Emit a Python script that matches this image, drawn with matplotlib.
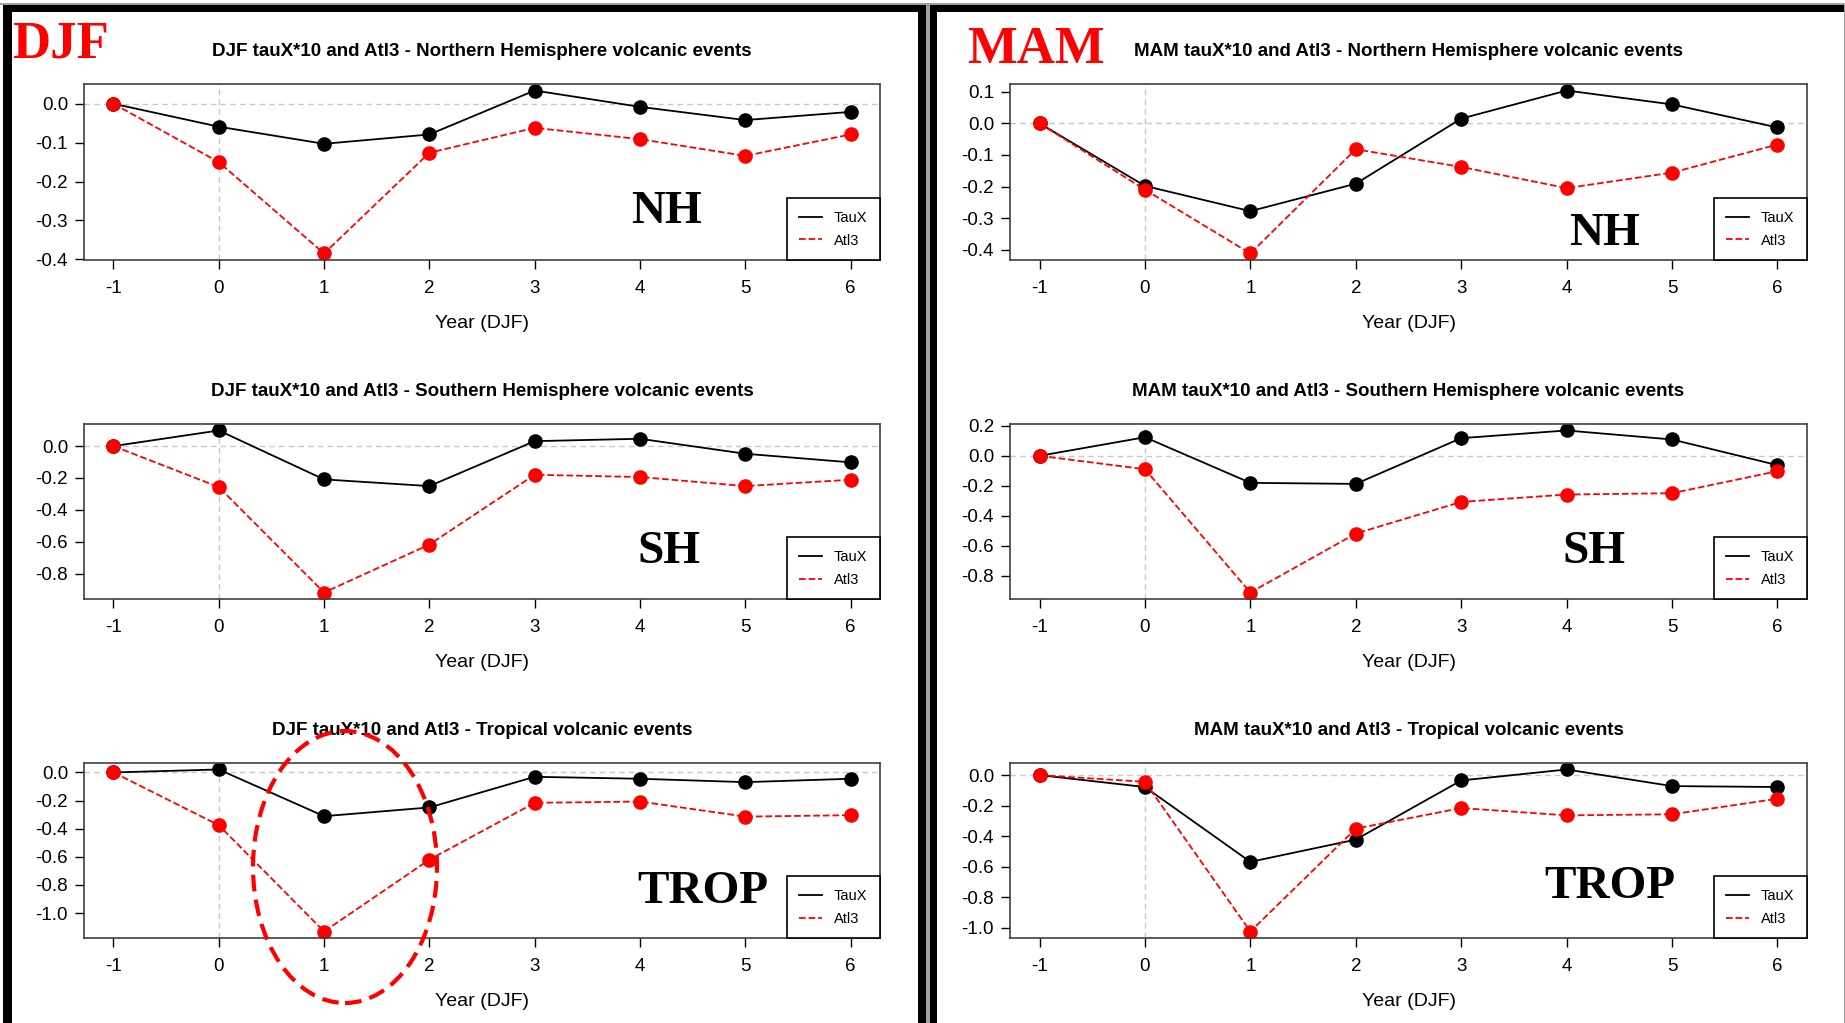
import matplotlib.pyplot as plt
from matplotlib.patches import Ellipse, Rectangle
from matplotlib.ticker import MultipleLocator, FormatStrFormatter

plt.rcParams['font.family'] = ['Liberation Sans', 'DejaVu Sans']
plt.rcParams['axes.unicode_minus'] = False

W, H = 1845, 1023

years = [-1, 0, 1, 2, 3, 4, 5, 6]

# tauX*10 and Atl3 anomalies, DJF season
djf_nh_taux = [0.0, -0.059, -0.103, -0.079, 0.034, -0.008, -0.042, -0.021]
djf_nh_atl3 = [0.0, -0.150, -0.385, -0.126, -0.062, -0.091, -0.134, -0.079]
djf_sh_taux = [0.0, 0.098, -0.209, -0.251, 0.031, 0.046, -0.048, -0.102]
djf_sh_atl3 = [0.0, -0.257, -0.919, -0.618, -0.180, -0.194, -0.251, -0.211]
djf_trop_taux = [0.0, 0.021, -0.311, -0.249, -0.031, -0.045, -0.069, -0.045]
djf_trop_atl3 = [0.0, -0.375, -1.131, -0.620, -0.216, -0.207, -0.314, -0.304]

# same for MAM season
mam_nh_taux = [0.0, -0.198, -0.278, -0.191, 0.015, 0.104, 0.060, -0.013]
mam_nh_atl3 = [0.0, -0.210, -0.412, -0.082, -0.138, -0.205, -0.156, -0.067]
mam_sh_taux = [0.0, 0.124, -0.180, -0.187, 0.118, 0.169, 0.109, -0.062]
mam_sh_atl3 = [0.0, -0.089, -0.911, -0.518, -0.307, -0.258, -0.249, -0.102]
mam_trop_taux = [0.0, -0.078, -0.569, -0.423, -0.035, 0.037, -0.072, -0.078]
mam_trop_atl3 = [0.0, -0.044, -1.026, -0.351, -0.216, -0.264, -0.257, -0.155]

region_names = ['Northern Hemisphere', 'Southern Hemisphere', 'Tropical']
region_tags = ['NH', 'SH', 'TROP']


def px_rect(x0, y0, x1, y1):
    # pixel box (top-left origin) -> figure fraction [left, bottom, width, height]
    return [x0 / W, 1 - y1 / H, (x1 - x0) / W, (y1 - y0) / H]


def panel(rect, season, region, tag, taux, atl3, ystep, tag_pos):
    ax = fig.add_axes(rect)
    ax.axhline(0, color='#c8c8c8', lw=1, ls=(0, (4, 3)), zorder=0)
    ax.axvline(0, color='#c8c8c8', lw=1, ls=(0, (4, 3)), zorder=0)
    ax.plot(years, taux, color='black', lw=1.3, marker='o', ms=9.5, label='TauX')
    ax.plot(years, atl3, color='red', lw=1.3, ls='--', marker='o', ms=9.5,
            mec='red', label='Atl3')
    ax.margins(x=0.04, y=0.04)
    ax.set_xticks(years)
    ax.yaxis.set_major_locator(MultipleLocator(ystep))
    ax.yaxis.set_major_formatter(FormatStrFormatter('%.1f'))
    ax.tick_params(direction='out', length=6.5, width=1, labelsize=13.5, pad=5)
    ax.tick_params(axis='x', pad=8)
    for s in ax.spines.values():
        s.set_color('#404040')
        s.set_linewidth(1.2)
    ax.set_title(f'{season} tauX*10 and Atl3 - {region} volcanic events',
                 fontsize=13.5, fontweight='bold', pad=20)
    ax.set_xlabel('Year (DJF)', fontsize=14, labelpad=13)
    leg = ax.legend(loc='lower right', borderaxespad=0, fancybox=False,
                    framealpha=1, edgecolor='black', fontsize=10.5,
                    handlelength=1.6, handletextpad=0.8, labelspacing=0.6,
                    borderpad=0.85)
    leg.get_frame().set_linewidth(1.2)
    for h in leg.legend_handles:
        h.set_marker('')
    ax.text(tag_pos[0], tag_pos[1], tag, transform=ax.transAxes,
            family='Liberation Serif', fontweight='bold', fontsize=34,
            va='baseline', ha='left')
    return ax


fig = plt.figure(figsize=(W / 100, H / 100), dpi=100)

rows = [(84, 260), (424, 599), (763, 938)]
djf_cols = (84, 880)
mam_cols = (1010, 1807)

djf_data = [(djf_nh_taux, djf_nh_atl3, 0.1), (djf_sh_taux, djf_sh_atl3, 0.2),
            (djf_trop_taux, djf_trop_atl3, 0.2)]
mam_data = [(mam_nh_taux, mam_nh_atl3, 0.1), (mam_sh_taux, mam_sh_atl3, 0.2),
            (mam_trop_taux, mam_trop_atl3, 0.2)]
djf_tag_pos = [(0.687, 0.21), (0.695, 0.206), (0.695, 0.20)]
mam_tag_pos = [(0.701, 0.085), (0.693, 0.206), (0.671, 0.229)]

for i, (top, bottom) in enumerate(rows):
    tx, at, st = djf_data[i]
    panel(px_rect(djf_cols[0], top, djf_cols[1], bottom), 'DJF',
          region_names[i], region_tags[i], tx, at, st, djf_tag_pos[i])
    tx, at, st = mam_data[i]
    panel(px_rect(mam_cols[0], top, mam_cols[1], bottom), 'MAM',
          region_names[i], region_tags[i], tx, at, st, mam_tag_pos[i])

# season headings
fig.text(12 / W, 1 - 57 / H, 'DJF', color='red', family='Liberation Serif',
         fontweight='bold', fontsize=38, va='baseline', ha='left')
fig.text(967 / W, 1 - 63 / H, 'MAM', color='red', family='Liberation Serif',
         fontweight='bold', fontsize=38, va='baseline', ha='left')

# frame bars around the two columns
for x0, y0, x1, y1, c in [(3, 5, W, 12, 'black'), (3, 5, 12, H, 'black'),
                          (918, 5, 926, H, 'black'), (930, 5, 937, H, 'black'),
                          (926, 5, 930, H, '#a0a0a0'), (0, 3, W, 5, '#a0a0a0'),
                          (W - 1.5, 5, W, H, '#a0a0a0')]:
    l, b, w, h = px_rect(x0, y0, x1, y1)
    fig.add_artist(Rectangle((l, b), w, h, transform=fig.transFigure,
                             facecolor=c, edgecolor='none'))

# highlight around years 1-2 of the DJF tropical response
fig.add_artist(Ellipse((345 / W, 1 - 867 / H), 184 / W, 272 / H,
                       transform=fig.transFigure, fill=False, edgecolor='red',
                       lw=3, ls=(0, (4, 2))))

fig.savefig('out.png', dpi=100)
